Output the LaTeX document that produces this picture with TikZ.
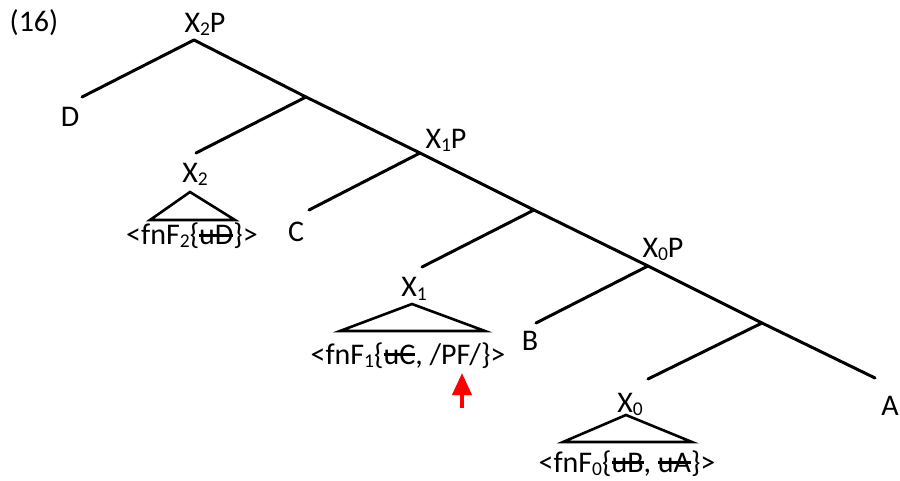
\documentclass[tikz,border=0pt]{standalone}
\usepackage{fontspec}
\setmainfont{Carlito}
\usetikzlibrary{arrows.meta}
\newsavebox\strkbox
\newcommand\strk[1]{\sbox\strkbox{#1}\rlap{\usebox\strkbox}\rule[0.28em]{\wd\strkbox}{0.075em}}
\newcommand\sub[1]{\raisebox{-3pt}{\fontsize{19.5}{20}\selectfont #1}}
\tikzset{
  branch/.style={line width=3pt, line cap=round},
  tri/.style={line width=2.6pt, line join=miter},
  lab/.style={inner sep=0pt, anchor=base, font=\fontsize{30}{36}\selectfont},
  redarrow/.style={red, line width=4pt, -{Triangle[width=19pt,length=22pt]}}
}
\begin{document}
\begin{tikzpicture}[x=1pt,y=-1pt]
\useasboundingbox (0,0) rectangle (900,481);
% tree junctions
\coordinate (x2p) at (194,40);
\coordinate (dend) at (82,97);
\coordinate (n1) at (306,97);
\coordinate (x2end) at (196,153);
\coordinate (x1p) at (420,153);
\coordinate (cend) at (309,210);
\coordinate (n2) at (534,210);
\coordinate (x1end) at (422,267);
\coordinate (x0p) at (648,266);
\coordinate (bend) at (536,323);
\coordinate (n3) at (762,323);
\coordinate (x0end) at (648,379);
\coordinate (aend) at (875,378);
% spine and branches
\draw[branch] (x2p) -- (n1) -- (x1p) -- (n2) -- (x0p) -- (n3) -- (aend);
\draw[branch] (x2p) -- (dend);
\draw[branch] (n1) -- (x2end);
\draw[branch] (x1p) -- (cend);
\draw[branch] (n2) -- (x1end);
\draw[branch] (x0p) -- (bend);
\draw[branch] (n3) -- (x0end);
% labels
\node[lab] (ex) at (34,32) {(16)};
\node[lab] (lx2p) at (205,33) {X\sub{2}P};
\node[lab] (lx1p) at (446,149) {X\sub{1}P};
\node[lab] (lx0p) at (663,258) {X\sub{0}P};
\node[lab] (ld) at (70,127) {D};
\node[lab] (lc) at (296,242) {C};
\node[lab] (lb) at (530,350) {B};
\node[lab] (la) at (890,415) {A};
% X2 triangle
\node[lab] (lx2) at (195,183) {X\sub{2}};
\coordinate (t2a) at (190,192);
\coordinate (t2l) at (150,220);
\coordinate (t2r) at (235,220);
\draw[tri] (t2a) -- (t2l) -- (t2r) -- cycle;
\node[lab] (f2) at (192,245) {<fnF\sub{2}\{\strk{uD}\}>};
% X1 triangle
\node[lab] (lx1) at (414,297) {X\sub{1}};
\coordinate (t1a) at (412,304);
\coordinate (t1l) at (340,331);
\coordinate (t1r) at (485,331);
\draw[tri] (t1a) -- (t1l) -- (t1r) -- cycle;
\node[lab] (f1) at (408,364) {<fnF\sub{1}\{\strk{uC}, /PF/\}>};
% X0 triangle
\node[lab] (lx0) at (630,412) {X\sub{0}};
\coordinate (t0a) at (626,415);
\coordinate (t0l) at (563,442);
\coordinate (t0r) at (692,442);
\draw[tri] (t0a) -- (t0l) -- (t0r) -- cycle;
\node[lab] (f0) at (627,472) {<fnF\sub{0}\{\strk{uB}, \strk{uA}\}>};
% red arrow
\coordinate (arrbot) at (462,408);
\coordinate (arrtip) at (462,373);
\draw[redarrow] (arrbot) -- (arrtip);
\end{tikzpicture}
\end{document}
